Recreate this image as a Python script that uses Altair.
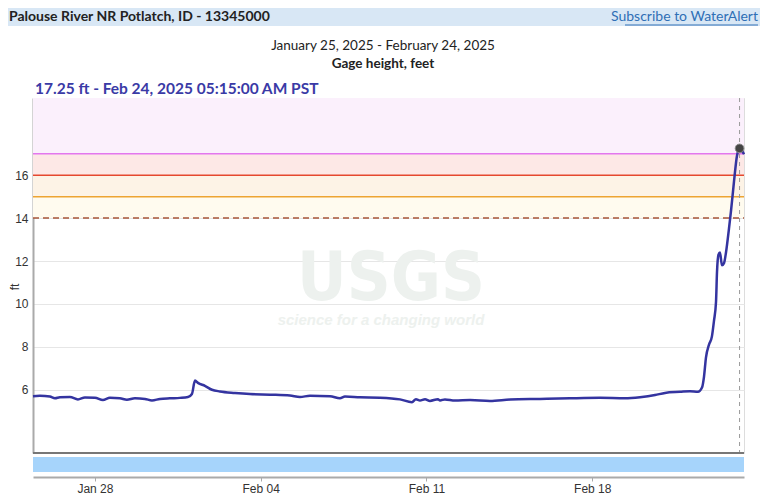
import altair as alt
import pandas as pd

# ---- data (hours since 2025-01-25 00:00 local, gage height ft)
hours = [9.25, 16.3, 26.4, 31.5, 36.5, 46.7, 54.8, 61.9, 72.0, 80.1, 87.2, 97.3, 104.4,
         112.5, 122.7, 129.8, 137.9, 148.0, 158.1, 166.3, 170.3, 173.4, 176.4, 183.5,
         190.6, 198.7, 213.9, 229.1, 249.4, 269.6, 279.8, 289.9, 310.2, 320.3, 325.4,
         340.6, 360.8, 381.1, 393.3, 397.3, 401.4, 406.5, 411.5, 419.6, 421.7, 426.7,
         436.9, 452.1, 472.3, 492.6, 523.0, 553.4, 583.8, 609.2, 624.4, 639.6, 649.7,
         664.9, 675.0, 683.1, 687.2, 689.2, 691.2, 694.3, 697.3, 699.3, 701.4, 702.4,
         703.9, 705.4, 707.4, 709.5, 711.5, 714.5, 716.5, 719.6, 722.6, 725.25, 729.8]
stage = [5.70, 5.72, 5.68, 5.60, 5.65, 5.66, 5.55, 5.64, 5.63, 5.52, 5.62, 5.60, 5.53,
         5.60, 5.57, 5.50, 5.57, 5.60, 5.62, 5.66, 5.80, 6.43, 6.32, 6.18,
         6.00, 5.92, 5.85, 5.80, 5.77, 5.73, 5.66, 5.72, 5.70, 5.60, 5.68,
         5.65, 5.63, 5.55, 5.42, 5.56, 5.50, 5.56, 5.48, 5.56, 5.50, 5.55,
         5.50, 5.52, 5.48, 5.54, 5.57, 5.60, 5.62, 5.60, 5.65, 5.75, 5.85,
         5.90, 5.93, 5.90, 6.10, 6.60, 7.50, 8.10, 8.50, 9.20, 10.10, 11.50,
         12.30, 12.40, 11.80, 11.90, 12.40, 13.50, 14.30, 15.70, 16.90, 17.25, 16.98]

band_lo = [17, 16, 15, 14]
band_hi = [19.6, 17, 16, 15]
band_col = ["#fbf0fc", "#fde8e6", "#fdf3e6", "#fffbef"]

thr_val = [17, 16, 15]
thr_col = ["#e377ee", "#e5482f", "#eda432"]
flood_dashed = 14

y_ticks = [6, 8, 10, 12, 14, 16]
cursor_time = "2025-02-24T05:15:00"
cursor_val = 17.25

base = pd.Timestamp("2025-01-25T00:00:00")
df = pd.DataFrame({
    "t": [(base + pd.Timedelta(hours=h)).strftime("%Y-%m-%dT%H:%M:%S") for h in hours],
    "v": stage,
})
bands = pd.DataFrame({"lo": band_lo, "hi": band_hi, "c": band_col})
thr = pd.DataFrame({"y": thr_val, "c": thr_col})

W, H = 711, 355
FONT = "Lato"

xscale = alt.Scale(domain=[alt.DateTime(year=2025, month=1, date=25, hours=9, minutes=15),
                           alt.DateTime(year=2025, month=2, date=24, hours=9, minutes=45)])
yscale = alt.Scale(domain=[3.05, 19.6], nice=False, zero=False)

tick_dts = [alt.DateTime(year=2025, month=1, date=28), alt.DateTime(year=2025, month=2, date=4),
            alt.DateTime(year=2025, month=2, date=11), alt.DateTime(year=2025, month=2, date=18)]

band_layer = alt.Chart(bands).mark_rect().encode(
    x=alt.value(0), x2=alt.value(W),
    y=alt.Y("lo:Q", scale=yscale, axis=alt.Axis(values=y_ticks, grid=True, gridColor="#e6e6e6",
                                                ticks=False, labelPadding=5, labelFontSize=12,
                                                labelColor="#333", labelFont="Liberation Sans",
                                                domainColor="#aaaaaa", domainWidth=2, title=None)),
    y2="hi:Q",
    color=alt.Color("c:N", scale=None),
)

thr_layer = alt.Chart(thr).mark_rule(strokeWidth=1.5).encode(
    x=alt.value(0), x2=alt.value(W), y=alt.Y("y:Q", scale=yscale), color=alt.Color("c:N", scale=None)
)
dash_layer = alt.Chart(pd.DataFrame({"y": [flood_dashed]})).mark_rule(
    strokeWidth=1.5, color="#a8563a", strokeDash=[6, 4]
).encode(x=alt.value(0), x2=alt.value(W), y=alt.Y("y:Q", scale=yscale))

line = alt.Chart(df).mark_line(color="#3434a0", strokeWidth=2.5, interpolate="monotone").encode(
    x=alt.X("t:T", scale=xscale,
            axis=alt.Axis(values=tick_dts, format="%b %d", offset=24, grid=False, title=None,
                          domainColor="#aaaaaa", domainWidth=2, tickColor="#aaaaaa", tickSize=4,
                          labelFontSize=12, labelColor="#333", labelFont="Liberation Sans",
                          labelPadding=2)),
    y=alt.Y("v:Q", scale=yscale),
)

cur = pd.DataFrame({"t": [cursor_time], "v": [cursor_val]})
vrule = alt.Chart(cur).mark_rule(color="#9a9a9a", strokeDash=[4, 4], strokeWidth=1).encode(
    x=alt.X("t:T", scale=xscale), y=alt.value(0), y2=alt.value(H)
)
dot = alt.Chart(cur).mark_point(filled=True, color="#444444", size=75, opacity=1,
                                stroke="#888888", strokeWidth=1).encode(
    x=alt.X("t:T", scale=xscale), y=alt.Y("v:Q", scale=yscale)
)

# bottom plot line and brush band
bottom_line = alt.Chart(cur).mark_rule(color="#777777", strokeWidth=2).encode(
    x=alt.value(0), x2=alt.value(W), y=alt.value(H)
)
brush = alt.Chart(cur).mark_rect(color="#a6d4fb").encode(
    x=alt.value(0), x2=alt.value(W), y=alt.value(H + 4), y2=alt.value(H + 19)
)

# header
header = alt.Chart(cur).mark_rect(color="#d8e7f5").encode(
    x=alt.value(-30), x2=alt.value(W + 30), y=alt.value(-95), y2=alt.value(-72)
)
def txt(s, x, y, size, weight="normal", color="#222", align="left", font=FONT, angle=0, style="normal"):
    return alt.Chart(cur).mark_text(text=s, align=align, baseline="middle", fontSize=size,
                                    fontWeight=weight, color=color, font=font, angle=angle,
                                    fontStyle=style).encode(x=alt.value(x), y=alt.value(y))

t_station = txt("Palouse River NR Potlatch, ID - 13345000", -24, -81, 14, "bold", "#222")
t_sub = txt("Subscribe to WaterAlert", 725, -81, 14, "normal", "#2f6fb5", "right")
u_sub = alt.Chart(cur).mark_rule(color="#2f6fb5", strokeWidth=1).encode(
    x=alt.value(592), x2=alt.value(725), y=alt.value(-73)
)
t_range = txt("January 25, 2025 - February 24, 2025", 350, -52, 13.5, "normal", "#222", "center")
t_param = txt("Gage height, feet", 350, -34, 13.5, "bold", "#222", "center")
t_cursor = txt("17.25 ft - Feb 24, 2025 05:15:00 AM PST", 2, -9, 15.5, "bold", "#3a3aa6")
t_ft = txt("ft", -18, 189, 12, "normal", "#333", "center", "Liberation Sans", 270)

wm1 = txt("USGS", 358, 182, 68, "bold", "#edf1ee", "center", "DejaVu Sans Condensed")
wm2 = txt("science for a changing world", 348, 222, 15, "bold", "#edf1ee", "center",
          "Liberation Sans", 0, "italic")

chart = alt.layer(
    header, t_station, t_sub, u_sub, t_range, t_param, t_cursor, t_ft,
    band_layer, wm1, wm2, thr_layer, dash_layer, vrule, line, dot, bottom_line, brush
).properties(
    width=W, height=H,
    padding={"left": 25, "top": 90, "right": 16, "bottom": 41},
    autosize=alt.AutoSizeParams(type="none"),
).configure_view(strokeWidth=0).configure(background="white")

chart.save("out.html", embed_options={"renderer": "svg", "actions": False})
